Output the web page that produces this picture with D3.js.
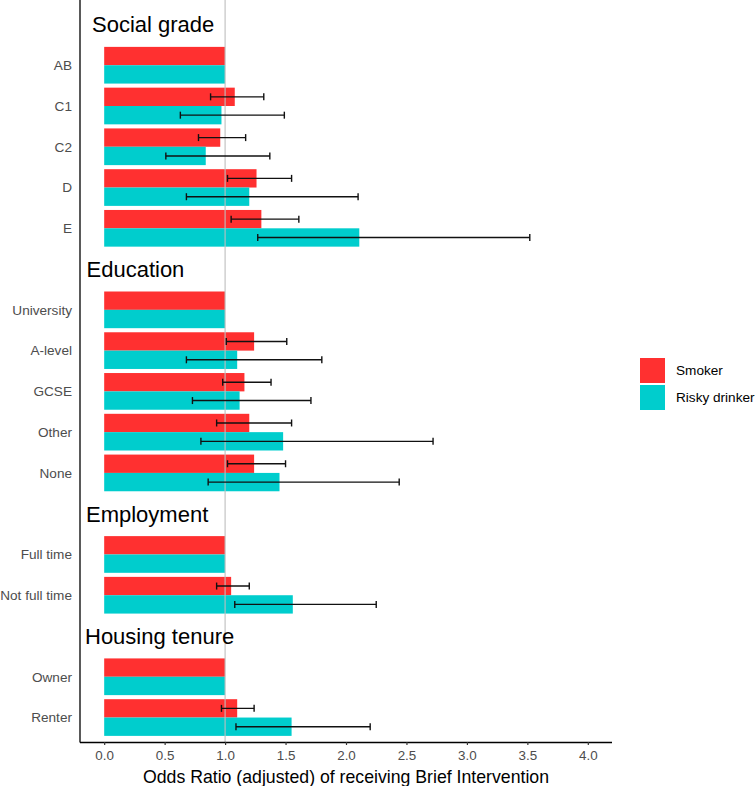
<!DOCTYPE html>
<html>
<head>
<meta charset="utf-8">
<script src="https://cdn.jsdelivr.net/npm/d3@7"></script>
<style>
  html, body { margin: 0; padding: 0; background: #ffffff; }
  svg { display: block; font-family: "Liberation Sans", Arial, sans-serif; }
</style>
</head>
<body>
<svg id="chart" width="756" height="786"></svg>
<script>
// ---- data ----
const groups = ["Social grade", "Education", "Employment", "Housing tenure"];
const categories = ["AB", "C1", "C2", "D", "E",
  "University", "A-level", "GCSE", "Other", "None",
  "Full time", "Not full time",
  "Owner", "Renter"];
const categoryGroup = ["Social grade", "Social grade", "Social grade", "Social grade", "Social grade",
  "Education", "Education", "Education", "Education", "Education",
  "Employment", "Employment",
  "Housing tenure", "Housing tenure"];
const seriesNames = ["Smoker", "Risky drinker"];
const smokerOR = [1, 1.08, 0.96, 1.26, 1.30, 1, 1.24, 1.16, 1.20, 1.24, 1, 1.05, 1, 1.10];
const smokerLo = [null, 0.88, 0.78, 1.02, 1.05, null, 1.01, 0.98, 0.93, 1.02, null, 0.93, null, 0.97];
const smokerHi = [null, 1.32, 1.17, 1.55, 1.61, null, 1.51, 1.38, 1.55, 1.50, null, 1.20, null, 1.24];
const drinkerOR = [1, 0.97, 0.84, 1.20, 2.11, 1, 1.10, 1.12, 1.48, 1.45, 1, 1.56, 1, 1.55];
const drinkerLo = [null, 0.63, 0.51, 0.68, 1.27, null, 0.68, 0.73, 0.80, 0.86, null, 1.08, null, 1.09];
const drinkerHi = [null, 1.49, 1.37, 2.10, 3.52, null, 1.80, 1.71, 2.72, 2.44, null, 2.25, null, 2.20];
const xTicks = [0, 0.5, 1, 1.5, 2, 2.5, 3, 3.5, 4];
const xTitle = "Odds Ratio (adjusted) of receiving Brief Intervention";
const colors = ["#FF3030", "#00CDCD"];

// ---- layout ----
const svg = d3.select("#chart");
const pLeft = 80, pRight = 612, pTop = 0, pBottom = 742;

// slots: heading then categories of each group
const slots = [];
groups.forEach(g => {
  slots.push("H:" + g);
  categories.forEach((c, i) => { if (categoryGroup[i] === g) slots.push(c); });
});

const x = d3.scaleLinear().domain([-0.2, 4.2]).range([pLeft, pRight]);
// emulate ggplot's 0.6 expansion around discrete centres
const yC = d3.scalePoint().domain(slots).range([pTop, pBottom]).padding(0.6);
const step = yC.step();
const barH = step * 0.9;
const sub = d3.scaleBand().domain(seriesNames).range([0, barH]);

// rows
const rows = categories.map((c, i) => ({
  cat: c,
  vals: [
    { s: seriesNames[0], or: smokerOR[i], lo: smokerLo[i], hi: smokerHi[i] },
    { s: seriesNames[1], or: drinkerOR[i], lo: drinkerLo[i], hi: drinkerHi[i] }
  ]
}));

const plot = svg.append("g");

// bars
rows.forEach(r => {
  r.vals.forEach((v, k) => {
    plot.append("rect")
      .attr("x", x(0))
      .attr("y", yC(r.cat) - barH / 2 + sub(v.s))
      .attr("width", x(v.or) - x(0))
      .attr("height", sub.bandwidth())
      .attr("fill", colors[k]);
  });
});

// reference line at 1
plot.append("line")
  .attr("x1", x(1)).attr("x2", x(1))
  .attr("y1", pTop).attr("y2", pBottom)
  .attr("stroke", "#BEBEBE").attr("stroke-width", 1.1);

// error bars
rows.forEach(r => {
  r.vals.forEach(v => {
    if (v.lo == null) return;
    const cy = yC(r.cat) - barH / 2 + sub(v.s) + sub.bandwidth() / 2;
    const g = plot.append("g").attr("stroke", "#111").attr("stroke-width", 1.4);
    g.append("line").attr("x1", x(v.lo)).attr("x2", x(v.hi)).attr("y1", cy).attr("y2", cy);
    g.append("line").attr("x1", x(v.lo)).attr("x2", x(v.lo)).attr("y1", cy - 3.5).attr("y2", cy + 3.5);
    g.append("line").attr("x1", x(v.hi)).attr("x2", x(v.hi)).attr("y1", cy - 3.5).attr("y2", cy + 3.5);
  });
});

// group headings
const headingX = { "Social grade": 92, "Education": 86.5, "Employment": 86, "Housing tenure": 85 };
groups.forEach(g => {
  svg.append("text")
    .attr("x", headingX[g])
    .attr("y", yC("H:" + g) + 8)
    .attr("font-size", 22)
    .attr("fill", "#000")
    .text(g);
});

// y labels
categories.forEach(c => {
  svg.append("text")
    .attr("x", 72)
    .attr("y", yC(c))
    .attr("dy", "0.35em")
    .attr("text-anchor", "end")
    .attr("font-size", 13.6)
    .attr("fill", "#4D4D4D")
    .text(c);
});

// axes lines
svg.append("line").attr("x1", pLeft).attr("x2", pLeft).attr("y1", pTop).attr("y2", pBottom + 0.6)
  .attr("stroke", "#000").attr("stroke-width", 1.3);
const xAxis = d3.axisBottom(x).tickValues(xTicks).tickFormat(d3.format(".1f")).tickSize(3).tickSizeOuter(0);
const xg = svg.append("g").attr("transform", `translate(0,${pBottom})`).call(xAxis);
xg.select(".domain").attr("stroke", "#000").attr("stroke-width", 1.3).attr("d", `M${pLeft},0.5H${pRight}`);
xg.selectAll(".tick line").attr("stroke", "#333").attr("stroke-width", 1.2);
xg.selectAll(".tick text").attr("font-size", 13.4).attr("fill", "#4D4D4D")
  .attr("font-family", "Liberation Sans, Arial, sans-serif").attr("dy", "0").attr("y", 18);

// x title
svg.append("text")
  .attr("x", (pLeft + pRight) / 2)
  .attr("y", 783)
  .attr("text-anchor", "middle")
  .attr("font-size", 17.7)
  .attr("fill", "#000")
  .text(xTitle);

// legend
const lg = svg.append("g").attr("transform", "translate(640,358)");
seriesNames.forEach((s, i) => {
  lg.append("rect").attr("x", 0).attr("y", i * 27).attr("width", 25).attr("height", 25).attr("fill", colors[i]);
  lg.append("text").attr("x", 36).attr("y", i * 27 + 12.5).attr("dy", "0.35em")
    .attr("font-size", 13.6).attr("fill", "#000").text(s);
});
</script>
</body>
</html>
